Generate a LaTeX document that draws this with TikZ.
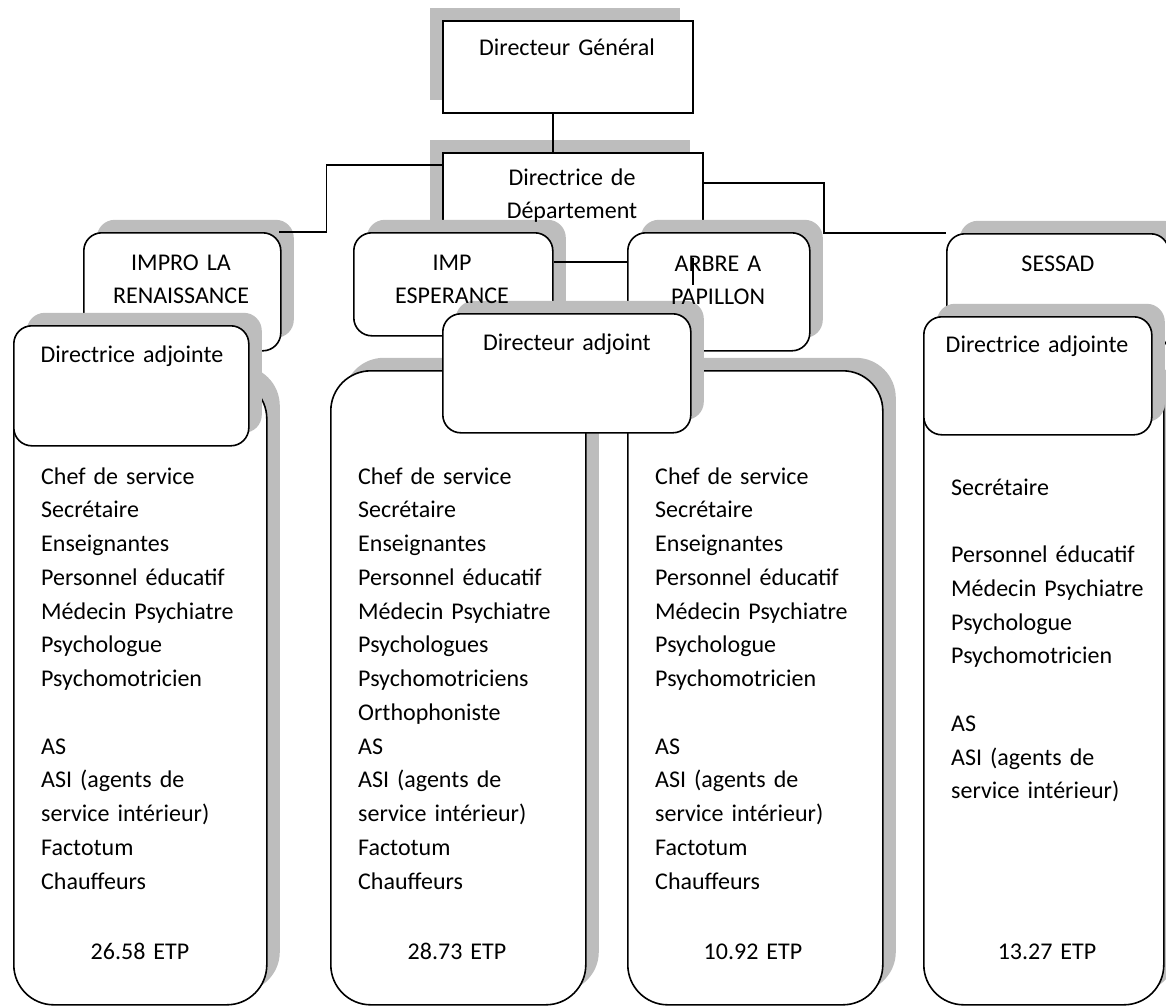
\documentclass[tikz,border=0pt]{standalone}
\usepackage{fontspec}
\setmainfont{Carlito}
\usetikzlibrary{shadows}
\definecolor{mgray}{rgb}{0.74, 0.74, 0.74}
\tikzset{box/.style = {draw, fill=white, line width=1.6pt, anchor=north west, inner sep=0}}
\tikzset{lshadow/.style = {drop shadow={shadow xshift=-13pt, shadow yshift=13pt, opacity=1, fill=mgray}}}
\tikzset{rshadow/.style = {drop shadow={shadow xshift=13pt, shadow yshift=13pt, opacity=1, fill=mgray}}}
\tikzset{unit/.style = {box, rshadow, rounded corners=18pt}}
\tikzset{staffbox/.style = {box, rshadow, rounded corners=40pt}}
\tikzset{title/.style = {anchor=base, align=center, text width=230pt, inner sep=0, font=\fontsize{24pt}{33pt}\selectfont}}
\tikzset{staff/.style = {anchor=base west, align=left, text width=240pt, inner sep=0, font=\fontsize{24pt}{33.75pt}\selectfont}}

\begin{document}
\begin{tikzpicture}[x=1pt, y=-1pt]
      \useasboundingbox (0, 0) rectangle (1166, 1007);

      \node [box, lshadow, minimum width=250pt, minimum height=92pt] (dg) at (442, 20) {};
      \node [box, lshadow, minimum width=260pt, minimum height=168pt] (ddep) at (442, 152) {};

      \node [unit, minimum width=197pt, minimum height=118pt] (impro) at (83, 232) {};
      \node [unit, minimum width=199pt, minimum height=103pt] (imp) at (353, 232) {};
      \node [unit, minimum width=182pt, minimum height=118pt] (arbre) at (627, 232) {};
      \node [unit, minimum width=222pt, minimum height=117pt] (sessad) at (946, 233) {};

      \node [staffbox, minimum width=253pt, minimum height=626pt] (stimpro) at (13, 378) {};
      \node [staffbox, minimum width=255pt, minimum height=634pt] (stimp) at (330, 370) {};
      \node [staffbox, minimum width=255pt, minimum height=634pt] (starbre) at (627, 370) {};
      \node [staffbox, minimum width=240pt, minimum height=634pt] (stsessad) at (923, 370) {};

      \node [unit, minimum width=235pt, minimum height=120pt] (dajimpro) at (13, 325) {};
      \node [unit, minimum width=248pt, minimum height=119pt] (dajimp) at (442, 313) {};
      \node [unit, minimum width=228pt, minimum height=118pt] (dajsessad) at (923, 316) {};

      \node [title] (dgtext) at (567, 55) {Directeur Général};
      \node [title] (ddeptext) at (572, 185) {Directrice de\\Département};
      \node [title] (improtext) at (181, 270) {IMPRO LA\\RENAISSANCE};
      \node [title] (imptext) at (452, 270) {IMP\\ESPERANCE};
      \node [title] (arbretext) at (718, 271) {ARBRE A\\PAPILLON};
      \node [title] (sessadtext) at (1058, 271) {SESSAD};
      \node [title] (dajimprotext) at (132, 362) {Directrice adjointe};
      \node [title] (dajimptext) at (567, 350) {Directeur adjoint};
      \node [title] (dajsessadtext) at (1037, 352) {Directrice adjointe};

      \node [staff] (improlist) at (41, 484) {Chef de service\\Secrétaire\\Enseignantes\\Personnel éducatif\\Médecin Psychiatre\\Psychologue\\Psychomotricien\\[33.75pt]AS\\ASI (agents de\\service intérieur)\\Factotum\\Chauffeurs};
      \node [staff] (implist) at (358, 484) {Chef de service\\Secrétaire\\Enseignantes\\Personnel éducatif\\Médecin Psychiatre\\Psychologues\\Psychomotriciens\\Orthophoniste\\AS\\ASI (agents de\\service intérieur)\\Factotum\\Chauffeurs};
      \node [staff] (arbrelist) at (655, 484) {Chef de service\\Secrétaire\\Enseignantes\\Personnel éducatif\\Médecin Psychiatre\\Psychologue\\Psychomotricien\\[33.75pt]AS\\ASI (agents de\\service intérieur)\\Factotum\\Chauffeurs};
      \node [staff] (sessadlist) at (951, 495) {Secrétaire\\[33.75pt]Personnel éducatif\\Médecin Psychiatre\\Psychologue\\Psychomotricien\\[33.75pt]AS\\ASI (agents de\\service intérieur)};

      \node [title] (etpimpro) at (140, 959) {26.58 ETP};
      \node [title] (etpimp) at (457, 959) {28.73 ETP};
      \node [title] (etparbre) at (753, 959) {10.92 ETP};
      \node [title] (etpsessad) at (1047, 959) {13.27 ETP};

      \draw [line width=1.6pt] ([xshift=-15pt]dg.south) -- ([xshift=-20pt]ddep.north);
      \draw [line width=1.6pt] ([yshift=-13pt]ddep.north west) -| ([xshift=45pt]impro.north east) -- ([xshift=-3pt]impro.north east);
      \draw [line width=1.6pt] ([yshift=-31pt]ddep.north east) -| ([xshift=-122pt]sessad.north west) -- (sessad.north west);
      \draw [line width=1.6pt] ([yshift=-30pt]imp.north east) -- ([yshift=-30pt]arbre.north west);
      \draw [line width=1.6pt] ([shift={(-26pt, -26pt)}]arbre.north) -- ++(0, 27);
    \end{tikzpicture}
\end{document}
